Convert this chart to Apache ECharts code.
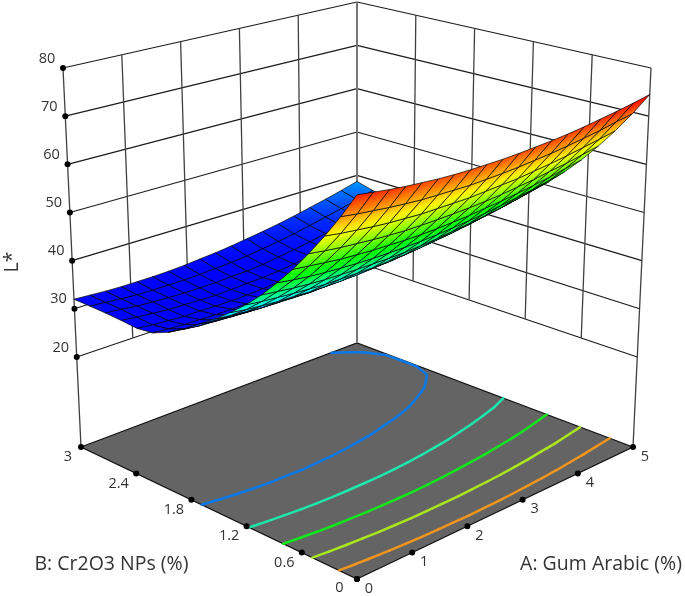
<!DOCTYPE html>
<html><head><meta charset="utf-8"><style>html,body{margin:0;padding:0;background:#fff}#c{width:685px;height:596px}</style>
<script src="https://cdn.jsdelivr.net/npm/echarts@6/dist/echarts.min.js"></script></head><body><div id="c"></div>
<script>
const aTicks=[0,1,2,3,4,5];
const bTicks=[0,0.6,1.2,1.8,2.4,3];
const bLabels=['0','0.6','1.2','1.8','2.4','3'];
const zTicks=[20,30,40,50,60,70,80];
const contourLevels=[37,44.6,52,59.5,67.4];
const contourColors=['#0a78e6','#1ee6aa','#14e61e','#aae61e','#f0961e'];
// L*: rows are B from 0 to 3, columns are A from 0 to 5
const surface=[
[73.3,72.8,72.3,71.9,71.6,71.3,71.1,71.0,71.0,71.0,71.1,71.3,71.5,71.8,72.2,72.7,73.2,73.8,74.5],
[68.2,67.7,67.3,66.9,66.6,66.3,66.2,66.1,66.0,66.1,66.2,66.4,66.7,67.0,67.4,67.9,68.4,69.1,69.7],
[63.5,63.0,62.6,62.2,61.9,61.7,61.5,61.5,61.5,61.5,61.7,61.9,62.1,62.5,62.9,63.4,64.0,64.6,65.3],
[59.1,58.6,58.2,57.9,57.6,57.4,57.2,57.2,57.2,57.3,57.4,57.6,57.9,58.3,58.7,59.3,59.8,60.5,61.2],
[55.0,54.6,54.2,53.8,53.6,53.4,53.3,53.2,53.2,53.3,53.5,53.7,54.1,54.4,54.9,55.4,56.0,56.7,57.4],
[51.3,50.8,50.4,50.1,49.9,49.7,49.6,49.6,49.6,49.7,49.9,50.2,50.5,50.9,51.4,51.9,52.5,53.2,54.0],
[47.8,47.4,47.0,46.7,46.5,46.4,46.3,46.3,46.3,46.4,46.6,46.9,47.3,47.7,48.2,48.7,49.4,50.1,50.8],
[44.7,44.3,44.0,43.7,43.5,43.3,43.3,43.3,43.3,43.5,43.7,44.0,44.4,44.8,45.3,45.9,46.5,47.2,48.0],
[42.0,41.5,41.2,40.9,40.8,40.6,40.6,40.6,40.7,40.9,41.1,41.4,41.8,42.2,42.8,43.3,44.0,44.7,45.6],
[39.5,39.1,38.8,38.5,38.4,38.3,38.2,38.3,38.4,38.6,38.8,39.1,39.5,40.0,40.5,41.1,41.8,42.6,43.4],
[37.3,36.9,36.6,36.4,36.2,36.2,36.1,36.2,36.3,36.5,36.8,37.1,37.6,38.0,38.6,39.2,39.9,40.7,41.5],
[35.0,34.6,34.4,34.2,34.0,34.0,34.0,34.1,34.3,34.5,34.8,35.2,35.6,36.1,36.7,37.4,38.1,38.9,39.8],
[33.1,32.7,32.5,32.3,32.2,32.2,32.3,32.4,32.6,32.8,33.2,33.6,34.1,34.6,35.2,35.9,36.7,37.5,38.4],
[31.7,31.4,31.2,31.1,31.0,31.0,31.0,31.1,31.3,31.6,32.0,32.4,32.9,33.5,34.1,34.8,35.6,36.5,37.4],
[31.3,30.9,30.7,30.5,30.5,30.4,30.4,30.5,30.7,31.0,31.3,31.7,32.2,32.8,33.5,34.2,35.0,35.9,37.1],
[31.6,31.2,30.9,30.6,30.5,30.4,30.3,30.4,30.6,30.7,31.0,31.4,32.0,32.6,33.3,34.0,34.8,35.7,37.1],
[31.8,31.5,31.1,30.9,30.7,30.6,30.6,30.6,30.8,30.9,31.2,31.7,32.2,32.8,33.5,34.2,35.1,36.0,37.1],
[31.9,31.6,31.3,31.1,31.0,31.0,31.0,31.1,31.3,31.5,31.8,32.3,32.8,33.4,34.1,34.9,35.7,36.6,37.6],
[32.0,31.8,31.6,31.5,31.5,31.5,31.6,31.8,32.1,32.4,32.8,33.3,33.8,34.4,35.1,35.9,36.7,37.6,38.6]
];
const gridN=surface.length,AMax=5,BMax=3;
const colorMin=30,colorMax=74.5,floorZ=1.3,topZ=80;
const bF={F:[357,579],R:[633,447],L:[81,447],K:[357,343]};
const bT={F:[357,159],R:[651,68],L:[63,68],K:[357,2]};
function project(A,B,Z){const x=A/AMax,y=B/BMax,t=(Z-floorZ)/(topZ-floorZ);
 const f=k=>{const bot=bF.F[k]*(1-x)*(1-y)+bF.R[k]*x*(1-y)+bF.L[k]*(1-x)*y+bF.K[k]*x*y;
 const top=bT.F[k]*(1-x)*(1-y)+bT.R[k]*x*(1-y)+bT.L[k]*(1-x)*y+bT.K[k]*x*y;return bot+(top-bot)*t;};
 return [f(0),f(1)];}
function rainbow(v){let t=(v-colorMin)/(colorMax-colorMin);t=Math.max(0,Math.min(1,t));let r,g,b;
 if(t<.25){const q=t/.25;r=0;g=q*q*255;b=255}else if(t<.5){r=0;g=255;b=255*(1-(t-.25)/.25)}else if(t<.75){r=(t-.5)/.25*255;g=255;b=0}else{r=255;g=255*(1-(t-.75)/.25);b=0}
 return `rgb(${r|0},${g|0},${b|0})`;}
const step=gridN-1;
const cells=[];
for(let i=gridN-2;i>=0;i--)for(let j=gridN-2;j>=0;j--){
 const A0=i*AMax/step,A1=(i+1)*AMax/step,B0=j*BMax/step,B1=(j+1)*BMax/step;
 cells.push([A0,B0,A1,B1,surface[j][i],surface[j][i+1],surface[j+1][i+1],surface[j+1][i]]);}
const segs=[];
contourLevels.forEach((lv,li)=>{for(let j=0;j<gridN-1;j++)for(let i=0;i<gridN-1;i++){
 const c=[[i,j],[i+1,j],[i+1,j+1],[i,j+1]],pts=[];
 for(let k=0;k<4;k++){const p=c[k],q=c[(k+1)%4],a=surface[p[1]][p[0]],b=surface[q[1]][q[0]];
  if((a<lv)!==(b<lv)){const t=(lv-a)/(b-a);pts.push([(p[0]+(q[0]-p[0])*t)*AMax/step,(p[1]+(q[1]-p[1])*t)*BMax/step]);}}
 for(let k=0;k+1<pts.length;k+=2)segs.push([pts[k][0],pts[k][1],pts[k+1][0],pts[k+1][1],li]);}});
const wallLines=[];
zTicks.forEach(z=>{wallLines.push([0,3,z,5,3,z,0]);wallLines.push([5,3,z,5,0,z,0]);});
aTicks.slice(1,5).forEach(a=>wallLines.push([a,3,20,a,3,80,1]));
bTicks.slice(1,5).forEach(b=>wallLines.push([5,b,20,5,b,80,1]));
wallLines.push([0,3,floorZ,0,3,80,1]);wallLines.push([5,0,floorZ,5,0,80,1]);wallLines.push([5,3,floorZ,5,3,80,2]);
const lineStyles=[{stroke:'#1c1c1c',lineWidth:1.2},{stroke:'#404040',lineWidth:1.3},{stroke:'#777',lineWidth:2}];
const dots=[];
zTicks.forEach(z=>dots.push([0,3,z]));
aTicks.forEach(a=>dots.push([a,0,floorZ]));
bTicks.forEach(b=>dots.push([0,b,floorZ]));
const labels=[];
zTicks.forEach(z=>labels.push({p:[0,3,z],d:[-16,-9.5],t:String(z)}));
aTicks.forEach(a=>labels.push({p:[a,0,floorZ],d:[12,9.5],t:String(a)}));
bTicks.forEach((b,i)=>labels.push({p:[0,b,floorZ],d:[i==5?-13:-17.5,i==0?9:10],t:bLabels[i]}));
const titles=[{t:'A: Gum Arabic (%)',x:601,y:564,r:0},{t:'B: Cr2O3 NPs (%)',x:111.5,y:564,r:0},{t:'L*',x:12,y:262,r:Math.PI/2}];
function base(type,data,render){return {type:'custom',coordinateSystem:'cartesian2d',data,renderItem:render,clip:false,silent:true,animation:false,progressive:0,z:type};}
const chart=echarts.init(document.getElementById('c'),null,{renderer:'canvas'});
const P=(api,A,B,Z)=>api.coord(project(A,B,Z));
chart.setOption({animation:false,backgroundColor:'#fff',tooltip:{show:false},
 grid:{left:0,right:0,top:0,bottom:0},
 xAxis:{type:'value',min:0,max:685,show:false},
 yAxis:{type:'value',min:0,max:596,inverse:true,show:false},
 series:[
 base(1,[[0]],(p,api)=>({type:'polygon',shape:{points:[P(api,0,0,floorZ),P(api,5,0,floorZ),P(api,5,3,floorZ),P(api,0,3,floorZ)]},style:{fill:'#646464',stroke:'#111',lineWidth:1.2}})),
 base(2,wallLines,(p,api)=>{const a=P(api,api.value(0),api.value(1),api.value(2)),b=P(api,api.value(3),api.value(4),api.value(5));
  return {type:'line',shape:{x1:a[0],y1:a[1],x2:b[0],y2:b[1]},style:lineStyles[api.value(6)]};}),
 base(3,segs,(p,api)=>{const z=floorZ,a=P(api,api.value(0),api.value(1),z),b=P(api,api.value(2),api.value(3),z);
  return {type:'line',shape:{x1:a[0],y1:a[1],x2:b[0],y2:b[1]},style:{stroke:contourColors[api.value(4)],lineWidth:2.5,lineCap:'round'}};}),
 base(4,dots,(p,api)=>{const a=P(api,api.value(0),api.value(1),api.value(2));return {type:'circle',shape:{cx:a[0],cy:a[1],r:3},style:{fill:'#000'}};}),
 base(5,cells,(p,api)=>{const A0=api.value(0),B0=api.value(1),A1=api.value(2),B1=api.value(3),v=[api.value(4),api.value(5),api.value(6),api.value(7)];
  const q=[P(api,A0,B0,v[0]),P(api,A1,B0,v[1]),P(api,A1,B1,v[2]),P(api,A0,B1,v[3])];
  const vmin=Math.min(...v),vmax=Math.max(...v),avg=(v[0]+v[1]+v[2]+v[3])/4;
  const dx1=q[1][0]-q[0][0],dy1=q[1][1]-q[0][1],dx2=q[3][0]-q[0][0],dy2=q[3][1]-q[0][1],det=dx1*dy2-dx2*dy1;
  let fill=rainbow(avg);
  if(Math.abs(det)>3&&vmax-vmin>.01){const d1=v[1]-v[0],d2=v[3]-v[0],gx=(d1*dy2-d2*dy1)/det,gy=(dx1*d2-dx2*d1)/det,n=gx*gx+gy*gy;
   if(n>1e-9){const s=[q[0][0]+gx*(vmin-v[0])/n,q[0][1]+gy*(vmin-v[0])/n],e=[q[0][0]+gx*(vmax-v[0])/n,q[0][1]+gy*(vmax-v[0])/n];
    fill=new echarts.graphic.LinearGradient(s[0],s[1],e[0],e[1],[{offset:0,color:rainbow(vmin)},{offset:.5,color:rainbow((vmin+vmax)/2)},{offset:1,color:rainbow(vmax)}],true);}}
  return {type:'polygon',shape:{points:q},style:{fill,stroke:'rgba(0,0,0,.85)',lineWidth:.8,lineJoin:'round'}};}),
 base(6,labels.map((l,i)=>[i]),(p,api)=>{const l=labels[p.dataIndex],a=P(api,l.p[0],l.p[1],l.p[2]);
  return {type:'text',x:a[0]+l.d[0],y:a[1]+l.d[1],style:{text:l.t,fill:'#333',font:'14.5px "Open Sans"',align:'center',verticalAlign:'middle'}};}),
 base(7,titles.map((l,i)=>[i]),(p,api)=>{const l=titles[p.dataIndex],a=api.coord([l.x,l.y]);
  return {type:'text',x:a[0],y:a[1],rotation:l.r,style:{text:l.t,fill:'#333',font:'19.5px "Open Sans"',align:'center',verticalAlign:'middle'}};})
 ]});
</script></body></html>
